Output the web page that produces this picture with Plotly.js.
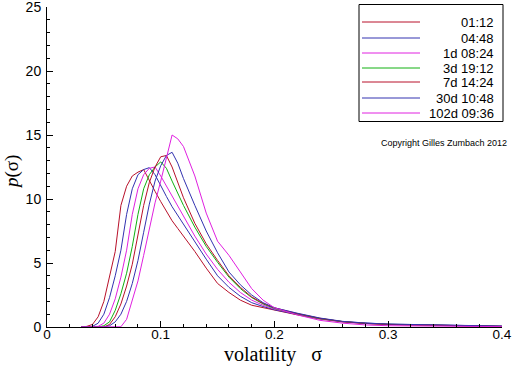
<!DOCTYPE html>
<html>
<head>
<meta charset="utf-8">
<script src="https://cdn.plot.ly/plotly-3.0.1.min.js"></script>
<style>html,body{margin:0;padding:0;background:#fff;}#chart{width:512px;height:366px;}</style>
</head>
<body>
<div id="chart"></div>
<script>
// sigma grid shared by all series
var sigma = [0.03,0.035,0.04,0.045,0.05,0.055,0.06,0.065,0.07,0.075,0.08,0.085,0.09,0.095,0.1,0.105,0.11,0.115,0.12,0.13,0.14,0.15,0.16,0.17,0.18,0.19,0.2,0.22,0.24,0.26,0.28,0.3,0.33,0.36,0.4];

var labels = ["01:12","04:48","1d 08:24","3d 19:12","7d 14:24","30d 10:48","102d 09:36"];
var colors = ["#b8102a","#3232b0","#e020e0","#10b010","#b8102a","#3232b0","#e020e0"];
var yTicks = [0,5,10,15,20,25];
var xTicks = [0,0.1,0.2,0.3,0.4];
var xTickText = ["0","0.1","0.2","0.3","0.4"];
var xTitle = "volatility\u00a0\u00a0\u00a0\u03c3";
var yTitle = "<i>p</i>(\u03c3)";

var p_0112   = [0,0.05,0.2,0.8,2.0,4.0,5.9,9.5,11.0,11.8,12.1,12.3,11.4,10.6,9.8,9.0,8.3,7.7,7.1,5.9,4.6,3.4,2.7,2.1,1.7,1.5,1.3,0.95,0.62,0.4,0.28,0.2,0.14,0.09,0.05];
var p_0448   = [0,0,0.05,0.3,1.0,2.3,4.0,6.0,8.8,10.8,11.9,12.3,12.45,11.9,11.0,10.2,9.4,8.7,8.0,6.6,5.3,4.0,3.1,2.4,1.9,1.6,1.35,0.98,0.65,0.42,0.3,0.22,0.18,0.12,0.06];
var p_1d0824 = [0,0,0,0.05,0.3,1.0,2.2,3.9,6.0,8.8,10.8,11.9,12.4,12.5,11.8,11.0,10.2,9.4,8.7,7.1,5.7,4.5,3.5,2.7,2.1,1.7,1.4,1.0,0.65,0.4,0.27,0.2,0.14,0.09,0.05];
var p_3d1912 = [0,0,0,0,0.1,0.4,1.3,2.6,4.2,6.3,8.8,10.8,11.9,12.5,12.9,12.4,11.4,10.4,9.5,7.8,6.3,5.05,3.9,3.0,2.3,1.8,1.45,1.02,0.66,0.42,0.28,0.21,0.15,0.1,0.05];
var p_7d1424 = [0,0,0,0,0,0.2,0.8,1.8,3.2,4.9,7.2,9.5,11.3,12.5,13.3,13.4,12.5,11.3,10.1,8.1,6.5,5.2,4.0,3.1,2.35,1.85,1.5,1.05,0.68,0.42,0.28,0.2,0.15,0.1,0.05];
var p_30d1048 = [0,0,0,0,0,0.1,0.4,1.0,2.0,3.4,5.2,7.4,9.6,11.4,12.6,13.4,13.65,12.8,11.6,9.5,7.5,5.8,4.3,3.3,2.5,1.9,1.5,1.08,0.7,0.44,0.3,0.23,0.19,0.13,0.07];
var p_102d0936 = [0,0,0,0,0,0,0,0.02,0.6,2.2,3.6,5.6,7.6,9.7,11.4,13.2,15.0,14.7,14.1,11.8,8.9,6.7,5.6,4.3,3.0,2.1,1.5,0.95,0.52,0.3,0.16,0.1,0.07,0.05,0.03];

var series = [p_0112,p_0448,p_1d0824,p_3d1912,p_7d1424,p_30d1048,p_102d0936];

var traces = series.map(function(ys,i){
  return {x: sigma, y: ys, type:'scatter', mode:'lines', name: labels[i],
          line:{color: colors[i], width:1}, showlegend:false, hoverinfo:'skip'};
});

// pixel -> paper helpers for the plot area (l=47, r=10, t=7, b=39)
function px(x){ return (x-47)/455; }
function py(y){ return (327-y)/320; }

// custom legend (right-aligned labels like the original)
var shapes = [{type:'rect', xref:'paper', yref:'paper', x0:px(359), x1:px(503),
               y0:py(121.5), y1:py(4.5), line:{color:'#000', width:1}, fillcolor:'rgba(0,0,0,0)'}];
var annotations = [];
var rowY = [22,38,53,68,82,98,113];
labels.forEach(function(lab,i){
  var yp = py(rowY[i]);
  shapes.push({type:'line', xref:'paper', yref:'paper', x0:px(362), x1:px(420),
               y0:yp, y1:yp, line:{color:colors[i], width:1}});
  annotations.push({xref:'paper', yref:'paper', x:px(496), y:yp, xanchor:'right', yanchor:'middle',
               text:lab, showarrow:false, font:{family:'Liberation Sans, Arial', size:13, color:'#000'}});
});
annotations.push({xref:'paper', yref:'paper', x:px(509), y:py(143), xanchor:'right', yanchor:'middle',
  text:'Copyright Gilles Zumbach 2012', showarrow:false, font:{family:'Liberation Sans, Arial', size:9, color:'#000'}});
// axis titles
annotations.push({xref:'paper', yref:'paper', x:px(273), y:py(367), xanchor:'center', yanchor:'bottom', borderpad:0,
  text:xTitle, showarrow:false, font:{family:'Liberation Serif, Times New Roman', size:20, color:'#000'}});
annotations.push({xref:'paper', yref:'paper', x:px(12), y:py(172), xanchor:'center', yanchor:'middle', textangle:-90,
  text:yTitle, showarrow:false, font:{family:'Liberation Serif, Times New Roman', size:19, color:'#000'}});

var layout = {
  width:512, height:366,
  margin:{l:47, r:10, t:7, b:39},
  paper_bgcolor:'#fff', plot_bgcolor:'#fff',
  font:{family:'Liberation Sans, Arial', size:14, color:'#000'},
  xaxis:{range:[0,0.4001], tickmode:'array', tickvals:xTicks, ticktext:xTickText,
         ticks:'inside', ticklen:6, tickcolor:'#000', showline:true, linecolor:'#000', linewidth:1,
         showgrid:false, zeroline:false, mirror:false, ticklabelstandoff:-5,
         minor:{dtick:0.02, ticks:'inside', ticklen:3, tickcolor:'#000', showgrid:false},
         tickfont:{size:13.5}},
  yaxis:{range:[0,25.001], tickmode:'array', tickvals:yTicks, ticks:'inside', ticklen:6, tickcolor:'#000',
         showline:true, linecolor:'#000', linewidth:1, ticklabeloverflow:'allow',
         showgrid:false, zeroline:false, ticklabelstandoff:2,
         minor:{dtick:1, ticks:'inside', ticklen:3, tickcolor:'#000', showgrid:false},
         tickfont:{size:14}},
  shapes:shapes, annotations:annotations, showlegend:false
};

Plotly.newPlot('chart', traces, layout, {staticPlot:true, displayModeBar:false});
</script>
</body>
</html>
